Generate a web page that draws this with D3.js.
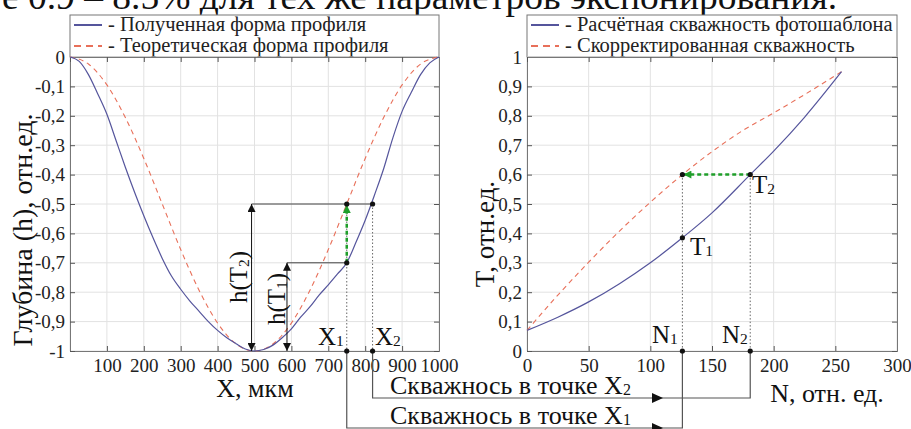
<!DOCTYPE html>
<html>
<head>
<meta charset="utf-8">
<script src="https://cdn.jsdelivr.net/npm/d3@7"></script>
<style>
    body { margin: 0; background: #fff; }
    svg { display: block; }
    svg text { font-family: "Liberation Serif", "Times New Roman", serif; }
</style>
</head>
<body>
<div id="chart"></div>
<script>
// ---- data ----
// left panel: profile depth vs X, mkm
const profileX = [0, 25, 50, 75, 100, 125, 150, 175, 200, 225, 250, 275, 300, 325, 350, 375, 400, 425, 450, 475, 500,
    525, 550, 575, 600, 625, 650, 675, 700, 725, 750, 775, 800, 825, 850, 875, 900, 925, 950, 975, 1000];
const measuredDepth = [0, -0.015, -0.06, -0.125, -0.195, -0.285, -0.375, -0.46, -0.54, -0.615, -0.685, -0.745, -0.79, -0.83, -0.865, -0.9, -0.93, -0.955, -0.975, -0.993, -1,
    -0.995, -0.98, -0.955, -0.925, -0.885, -0.85, -0.81, -0.775, -0.738, -0.70, -0.63, -0.555, -0.47, -0.38, -0.275, -0.185, -0.12, -0.06, -0.02, 0];
const theoryX = [0, 50, 100, 150, 200, 250, 300, 350, 400, 450, 500, 550, 600, 650, 700, 750, 800, 850, 900, 950, 1000];
const theoryDepth = [0, -0.024, -0.095, -0.206, -0.345, -0.5, -0.655, -0.794, -0.905, -0.976, -1,
    -0.976, -0.905, -0.794, -0.655, -0.5, -0.345, -0.206, -0.095, -0.024, 0];

// right panel: duty cycle T vs N
const calcN = [0, 25, 50, 75, 100, 126, 150, 181, 200, 225, 255];
const calcDuty = [0.07, 0.115, 0.167, 0.229, 0.3, 0.385, 0.47, 0.6, 0.68, 0.795, 0.95];
const corrN = [0, 25, 50, 75, 100, 126, 150, 175, 200, 225, 255];
const corrDuty = [0.07, 0.19, 0.302, 0.408, 0.506, 0.6, 0.678, 0.75, 0.81, 0.872, 0.95];

// annotation points
const X1 = 750, X2 = 820, hT1 = -0.7, hT2 = -0.5;
const hArrowX = [492, 588];
const N1 = 126, N2 = 181, T1 = 0.385, T2 = 0.6;

// ticks
const leftXTicks = [0, 100, 200, 300, 400, 500, 600, 700, 800, 900, 1000];
const leftYTicks = [0, -0.1, -0.2, -0.3, -0.4, -0.5, -0.6, -0.7, -0.8, -0.9, -1];
const rightXTicks = [0, 50, 100, 150, 200, 250, 300];
const rightYTicks = [0, 0.1, 0.2, 0.3, 0.4, 0.5, 0.6, 0.7, 0.8, 0.9, 1];

const legendLeft = ["- Полученная форма профиля", "- Теоретическая форма профиля"];
const legendRight = ["- Расчётная скважность фотошаблона", "- Скорректированная скважность"];

const W = 911, H = 429;
const blue = "#55559c", red = "#e8705a", green = "#1f9e2a", ink = "#222";
const comma = d => String(d).replace(".", ",");

const svg = d3.select("#chart").append("svg")
    .attr("width", W)
    .attr("height", H);

// markers
const defs = svg.append("defs");
function marker(id, color) {
    defs.append("marker")
        .attr("id", id)
        .attr("viewBox", "0 0 10 10")
        .attr("refX", 10).attr("refY", 5)
        .attr("markerWidth", 10).attr("markerHeight", 8)
        .attr("markerUnits", "userSpaceOnUse")
        .attr("orient", "auto-start-reverse")
        .append("path")
        .attr("d", "M0,0 L10,5 L0,10 Z")
        .attr("fill", color);
}
marker("tri", "#111");
marker("triG", green);

// clipped caption line at the very top
svg.append("text")
    .attr("x", 2).attr("y", 9)
    .attr("textLength", 835)
    .attr("lengthAdjust", "spacingAndGlyphs")
    .style("font-size", "36px")
    .attr("fill", "#111")
    .text("е 0.9 – 8.5% для тех же параметров экспонирования.");

function panel(o) {
    const g = svg.append("g");
    const [x0, x1] = o.x.range();
    const [y0, y1] = o.y.range(); // y0 bottom, y1 top

    // legend box
    g.append("rect")
        .attr("x", x0).attr("y", 15)
        .attr("width", x1 - x0).attr("height", y1 - 15)
        .attr("fill", "#fff").attr("stroke", "#777");
    o.legend.forEach((t, i) => {
        const ly = i === 0 ? 25 : 46;
        g.append("line")
            .attr("x1", x0 + 4).attr("x2", x0 + 32)
            .attr("y1", ly).attr("y2", ly)
            .attr("stroke", i === 0 ? blue : red)
            .attr("stroke-width", 2)
            .attr("stroke-dasharray", i === 0 ? null : "7,5");
        g.append("text")
            .attr("x", x0 + 38).attr("y", ly + 6)
            .style("font-size", "20.5px")
            .attr("fill", ink)
            .text(t);
    });

    // grid
    g.append("g").selectAll("line")
        .data(o.xTicks)
        .join("line")
        .attr("x1", d => o.x(d)).attr("x2", d => o.x(d))
        .attr("y1", y0).attr("y2", y1)
        .attr("stroke", "#e2e2e2");
    g.append("g").selectAll("line")
        .data(o.yTicks)
        .join("line")
        .attr("x1", x0).attr("x2", x1)
        .attr("y1", d => o.y(d)).attr("y2", d => o.y(d))
        .attr("stroke", "#e2e2e2");

    // axes with inward ticks
    const ax = g.append("g")
        .attr("transform", `translate(0,${y0})`)
        .call(d3.axisBottom(o.x).tickValues(o.xTicks).tickSize(-5).tickPadding(8)
            .tickFormat(o.xFormat));
    const ay = g.append("g")
        .attr("transform", `translate(${x0},0)`)
        .call(d3.axisLeft(o.y).tickValues(o.yTicks).tickSize(-5).tickPadding(5)
            .tickFormat(comma));
    g.append("g")
        .attr("transform", `translate(0,${y1})`)
        .call(d3.axisTop(o.x).tickValues(o.xTicks).tickSize(-5).tickFormat(""));
    g.append("g")
        .attr("transform", `translate(${x1},0)`)
        .call(d3.axisRight(o.y).tickValues(o.yTicks).tickSize(-5).tickFormat(""));
    g.selectAll(".domain").attr("stroke", "#777");
    g.selectAll(".tick line").attr("stroke", "#555");
    [ax, ay].forEach(a => a.selectAll("text")
        .style("font-size", "19px")
        .attr("fill", ink));

    // curves
    const line = d3.line().x(d => o.x(d[0])).y(d => o.y(d[1])).curve(d3.curveMonotoneX);
    g.append("path")
        .datum(d3.zip(o.redX, o.redY))
        .attr("d", line)
        .attr("fill", "none").attr("stroke", red)
        .attr("stroke-width", 1.1).attr("stroke-dasharray", "5,4");
    g.append("path")
        .datum(d3.zip(o.blueX, o.blueY))
        .attr("d", line)
        .attr("fill", "none").attr("stroke", blue)
        .attr("stroke-width", 1.2);
    return g;
}

const xL = d3.scaleLinear([0, 1000], [70, 439]);
const yL = d3.scaleLinear([-1, 0], [351, 57]);
const xR = d3.scaleLinear([0, 300], [527, 897]);
const yR = d3.scaleLinear([0, 1], [351, 57]);

const gl = panel({
    x: xL, y: yL, xTicks: leftXTicks, yTicks: leftYTicks,
    xFormat: d => d === 0 ? "" : d,
    legend: legendLeft,
    blueX: profileX, blueY: measuredDepth, redX: theoryX, redY: theoryDepth
});
const gr = panel({
    x: xR, y: yR, xTicks: rightXTicks, yTicks: rightYTicks,
    xFormat: d => d,
    legend: legendRight,
    blueX: calcN, blueY: calcDuty, redX: corrN, redY: corrDuty
});

// axis titles
function label(x, y, txt, size, rot) {
    svg.append("text")
        .attr("transform", `translate(${x},${y})` + (rot ? " rotate(-90)" : ""))
        .attr("text-anchor", "middle")
        .style("font-size", size + "px")
        .attr("fill", "#111")
        .text(txt);
}
label(32, 230, "Глубина (h), отн.ед.", 28, true);
label(255, 397, "X, мкм", 26);
label(494, 234, "T, отн.ед.", 27, true);
label(827, 402, "N, отн. ед.", 26);

// label with subscript
function sub(parent, x, y, main, s, size, rot) {
    const t = parent.append("text")
        .attr("transform", `translate(${x},${y})` + (rot ? " rotate(-90)" : ""))
        .attr("text-anchor", rot ? "middle" : "start")
        .style("font-size", size + "px")
        .attr("fill", "#111");
    if (Array.isArray(main)) {
        t.append("tspan").text(main[0]);
        t.append("tspan").style("font-size", (size * 0.62) + "px").attr("dy", 2).text(s);
        t.append("tspan").attr("dy", -2).text(main[1]);
    } else {
        t.append("tspan").text(main);
        t.append("tspan").style("font-size", (size * 0.62) + "px").attr("dy", 1).text(s);
    }
}

// ---- left panel annotations ----
const dotted = (g, x1, y1, x2, y2) => g.append("line")
    .attr("x1", x1).attr("y1", y1).attr("x2", x2).attr("y2", y2)
    .attr("stroke", "#666").attr("stroke-width", 1).attr("stroke-dasharray", "1.5,2");
const solid = (g, x1, y1, x2, y2) => g.append("line")
    .attr("x1", x1).attr("y1", y1).attr("x2", x2).attr("y2", y2)
    .attr("stroke", "#444").attr("stroke-width", 1);

dotted(gl, xL(X1), yL(hT2), xL(X1), yL(-1));
dotted(gl, xL(X2), yL(hT2), xL(X2), yL(-1));
solid(gl, xL(hArrowX[0]), yL(hT2), xL(X2), yL(hT2));
solid(gl, xL(hArrowX[1]), yL(hT1), xL(X1), yL(hT1));
[[hArrowX[0], hT2], [hArrowX[1], hT1]].forEach(([ax, ah]) => {
    gl.append("line")
        .attr("x1", xL(ax)).attr("x2", xL(ax))
        .attr("y1", yL(ah)).attr("y2", yL(-1))
        .attr("stroke", "#111").attr("stroke-width", 1)
        .attr("marker-start", "url(#tri)").attr("marker-end", "url(#tri)");
});
gl.append("line")
    .attr("x1", xL(X1)).attr("x2", xL(X1))
    .attr("y1", yL(hT1)).attr("y2", yL(hT2) + 1)
    .attr("stroke", green).attr("stroke-width", 2.5).attr("stroke-dasharray", "4,3")
    .attr("marker-end", "url(#triG)");
sub(gl, 247, 277, ["h(T", ")"], "2", 25, true);
sub(gl, 285, 299, ["h(T", ")"], "1", 25, true);
sub(gl, 318, 345, "X", "1", 25);
sub(gl, 375, 345, "X", "2", 25);

// ---- right panel annotations ----
dotted(gr, xR(N1), yR(T2), xR(N1), yR(0));
dotted(gr, xR(N2), yR(T2), xR(N2), yR(0));
gr.append("line")
    .attr("x1", xR(N2)).attr("x2", xR(N1) + 1)
    .attr("y1", yR(T2)).attr("y2", yR(T2))
    .attr("stroke", green).attr("stroke-width", 2.5).attr("stroke-dasharray", "4,3")
    .attr("marker-end", "url(#triG)");
sub(gr, 690, 255, "T", "1", 25);
sub(gr, 752, 193, "T", "2", 25);
sub(gr, 652, 343, "N", "1", 25);
sub(gr, 722, 343, "N", "2", 25);

// ---- connectors between panels ----
const conn = svg.append("g");
const links = [
    {from: xL(X2), to: xR(N2), y: 398, text: "X", s: "2", ty: 394},
    {from: xL(X1), to: xR(N1), y: 428, text: "X", s: "1", ty: 424}
];
links.forEach(l => {
    conn.append("path")
        .attr("d", `M${l.from},${yL(-1)} V${l.y} H${l.to} V${yR(0)}`)
        .attr("fill", "none").attr("stroke", "#555").attr("stroke-width", 1.2);
    conn.append("path")
        .attr("d", `M${652},${l.y - 5} L${663},${l.y} L${652},${l.y + 5} Z`)
        .attr("fill", "#111");
    const t = conn.append("text")
        .attr("x", 390).attr("y", l.ty)
        .style("font-size", "26px")
        .attr("fill", "#111");
    t.append("tspan").text("Скважнось в точке " + l.text);
    t.append("tspan").style("font-size", "16px").attr("dy", 1).text(l.s);
});

// dots
const dots = [
    [xL(X1), yL(hT1)], [xL(X1), yL(hT2)], [xL(X2), yL(hT2)], [xL(X1), yL(-1)], [xL(X2), yL(-1)],
    [xR(N1), yR(T1)], [xR(N1), yR(T2)], [xR(N2), yR(T2)], [xR(N1), yR(0)], [xR(N2), yR(0)]
];
svg.append("g").selectAll("circle")
    .data(dots)
    .join("circle")
    .attr("cx", d => d[0]).attr("cy", d => d[1])
    .attr("r", 2.6).attr("fill", "#111");
</script>
</body>
</html>
